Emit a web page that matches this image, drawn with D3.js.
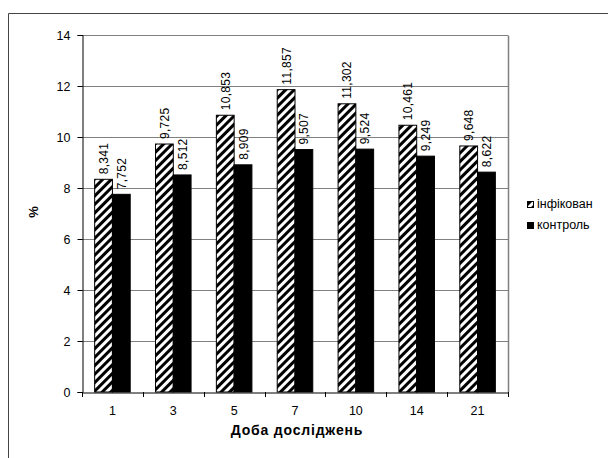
<!DOCTYPE html>
<html><head><meta charset="utf-8">
<script src="https://cdn.jsdelivr.net/npm/d3@7"></script>
<style>
html,body{margin:0;padding:0;background:#fff;}
svg{display:block;font-family:"Liberation Sans",Arial,sans-serif;}
</style></head>
<body>
<svg id="c" width="608" height="458"></svg>
<script>
const categories = ["1","3","5","7","10","14","21"];
const infected = [8.341, 9.725, 10.853, 11.857, 11.302, 10.461, 9.648];
const control  = [7.752, 8.512, 8.909, 9.507, 9.524, 9.249, 8.622];
const seriesNames = ["інфікован", "контроль"];
const yTicks = [0,2,4,6,8,10,12,14];
const xTitle = "Доба досліджень";
const yTitle = "%";

const svg = d3.select("#c");
const L = 82, R = 508, T = 35, B = 392;

const defs = svg.append("defs");
const pat = defs.append("pattern").attr("id","hatch").attr("patternUnits","userSpaceOnUse")
  .attr("width",6).attr("height",6).attr("patternTransform","rotate(45)");
pat.append("rect").attr("width",6).attr("height",6).attr("fill","#fff");
pat.append("rect").attr("width",3).attr("height",6).attr("fill","#000");

// outer frame
svg.append("path").attr("d","M8.5,470 V13.5 H620").attr("fill","none").attr("stroke","#444").attr("stroke-width",1);

const y = d3.scaleLinear().domain([0,14]).range([B,T]);
const x0 = d3.scaleBand().domain(categories).range([L,R]).paddingInner(0).paddingOuter(0);
const inner = d3.scaleBand().domain([0,1]).range([0,x0.bandwidth()]).paddingInner(0).paddingOuter(0.712);

// gridlines
svg.append("g").selectAll("line").data(yTicks.filter(d=>d>0)).join("line")
  .attr("x1",L).attr("x2",R).attr("y1",d=>Math.round(y(d))+0.5).attr("y2",d=>Math.round(y(d))+0.5)
  .attr("stroke","#808080").attr("stroke-width",1);
// right border
svg.append("line").attr("x1",R+0.5).attr("x2",R+0.5).attr("y1",Math.round(y(14))+0.5).attr("y2",B)
  .attr("stroke","#808080").attr("stroke-width",1.5);

// bars
const data = categories.map((c,i)=>({c, vals:[infected[i], control[i]]}));
const g = svg.append("g");
data.forEach(d=>{
  d.vals.forEach((v,k)=>{
    const bx = x0(d.c)+inner(k);
    g.append("rect").attr("x",bx).attr("y",y(v)).attr("width",inner.bandwidth()).attr("height",B-y(v))
      .attr("fill",k===0?"url(#hatch)":"#000").attr("stroke","#000").attr("stroke-width",1);
    g.append("text").attr("transform",`translate(${bx+inner.bandwidth()/2+4.5},${y(v)-5}) rotate(-90)`)
      .attr("font-size",12).attr("letter-spacing",0.3).attr("fill","#000").text(String(v).replace(".",","));
  });
});

// y axis
const ya = svg.append("g").attr("transform",`translate(${L+0.5},0)`)
  .call(d3.axisLeft(y).tickValues(yTicks).tickSize(5).tickPadding(7).tickFormat(d=>d));
ya.select(".domain").attr("stroke","#000");
ya.selectAll(".tick line").attr("stroke","#000");
ya.selectAll("text").attr("font-size",12.5).attr("font-family","Liberation Sans, Arial, sans-serif").attr("fill","#000");

// x axis
const xa = svg.append("g").attr("transform",`translate(0,${B+0.5})`)
  .call(d3.axisBottom(x0).tickSize(0).tickPadding(14));
xa.select(".domain").attr("stroke","#000");
xa.selectAll("text").attr("font-size",12.5).attr("font-family","Liberation Sans, Arial, sans-serif").attr("fill","#000");
svg.append("g").selectAll("line").data(categories.concat(["end"])).join("line")
  .attr("x1",(d,i)=>Math.round(L+i*x0.step())+0.5).attr("x2",(d,i)=>Math.round(L+i*x0.step())+0.5)
  .attr("y1",B).attr("y2",B+5).attr("stroke","#000");

// titles
svg.append("text").attr("x",(L+R)/2+2).attr("y",435).attr("text-anchor","middle")
  .attr("font-size",14).attr("letter-spacing",0.8).attr("font-weight","bold").text(xTitle);
svg.append("text").attr("transform","translate(38,212) rotate(-90)").attr("text-anchor","middle")
  .attr("font-size",13).attr("font-weight","bold").text(yTitle);

// legend
const lg = svg.append("g");
seriesNames.forEach((n,i)=>{
  const yy = 201 + i*21;
  lg.append("rect").attr("x",527.5).attr("y",yy+0.5).attr("width",6).attr("height",6)
    .attr("fill",i===0?"url(#hatch)":"#000").attr("stroke","#000");
  lg.append("text").attr("x",537).attr("y",yy+7).attr("font-size",12.5).text(n);
});
</script>
</body></html>
